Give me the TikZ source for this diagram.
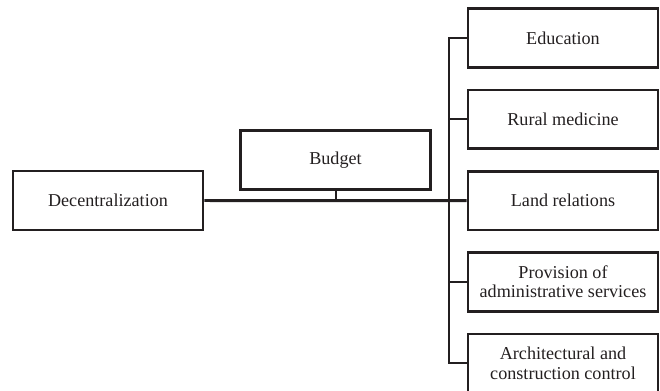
\documentclass[tikz,border=0pt]{standalone}
\usepackage{fontspec}
\setmainfont{Liberation Serif}
\usepackage{tikz}
\usetikzlibrary{positioning}
\definecolor{ink}{RGB}{35,31,32}

\begin{document}
\begin{tikzpicture}[x=0.75pt, y=-0.75pt, node distance = 61pt,
    box/.style = {draw=ink, line width=1.9pt, minimum width=142.5pt, minimum height=44pt,
                  align=center, inner sep=2pt, text=ink, font=\fontsize{13.6}{14.5}\selectfont},
    link/.style = {draw=ink, line width=1.7pt}]
    \useasboundingbox (0,0) rectangle (660,391);

    \node[box] (dec) at (108,200.5) {Decentralization};
    \node[box] (bud) at (335.5,160) {Budget};
    \node[box] (edu) at (563,38) {Education};
    \node[box] (med) [below of=edu] {Rural medicine};
    \node[box] (land) [below of=med] {Land relations};
    \node[box] (prov) [below of=land] {Provision of\\administrative services};
    \node[box] (arch) [below of=prov] {Architectural and\\construction control};
    \coordinate (bus) at (449,0);

    \draw[link, line width=2.2pt] (dec) -- (land);
    \draw[link, line width=1.5pt] (bud.south) -- (bud.south |- dec.east);
    \draw[link] (edu.west) -| (bus |- arch.west) -- (arch.west);
    \draw[link] (med.west) -- (med.west -| bus);
    \draw[link] (prov.west) -- (prov.west -| bus);
\end{tikzpicture}
\end{document}
